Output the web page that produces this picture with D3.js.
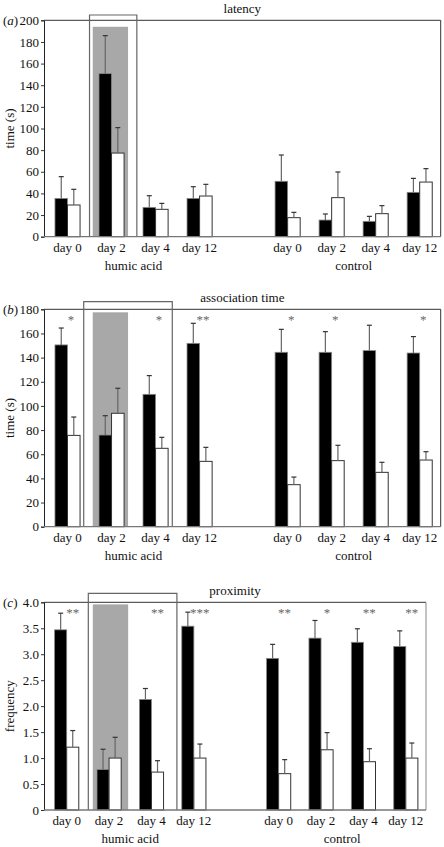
<!DOCTYPE html>
<html><head><meta charset="utf-8">
<script src="https://cdn.jsdelivr.net/npm/d3@7"></script>
<style>body{margin:0;background:#fff}svg{display:block}svg text{font-family:'Liberation Serif','Times New Roman',Times,'Nimbus Roman','DejaVu Serif',serif !important}</style>
</head><body><svg id="c" width="444" height="847"></svg>
<script>
const days = ["day 0","day 2","day 4","day 12"];
const groups = ["humic acid","control"];

const latencyBlack    = [35.4,150.7,27.1,35.4, 51.2,15.4,14.2,41.0];
const latencyBlackErr = [20.1,35.1,10.8,10.8, 24.3,5.6,4.6,12.9];
const latencyWhite    = [29.3,77.3,25.3,37.6, 17.6,36.1,21.3,50.5];
const latencyWhiteErr = [14.5,23.5,5.5,10.8, 4.9,23.7,7.4,12.4];

const assocBlack    = [150.5,75.9,109.6,151.8, 144.4,144.4,145.8,143.8];
const assocBlackErr = [14.0,16.0,15.5,16.6, 19.0,17.1,21.0,13.6];
const assocWhite    = [75.6,93.9,64.9,54.1, 34.8,54.7,45.0,55.2];
const assocWhiteErr = [15.2,20.7,9.1,11.6, 6.3,12.7,8.3,6.9];
const assocStars    = ["*","","*","**", "*","*","","*"];

const proxBlack    = [3.47,0.78,2.13,3.54, 2.92,3.31,3.23,3.15];
const proxBlackErr = [0.32,0.39,0.21,0.27, 0.27,0.34,0.26,0.30];
const proxWhite    = [1.21,1.00,0.73,1.00, 0.70,1.16,0.93,1.00];
const proxWhiteErr = [0.32,0.40,0.22,0.27, 0.27,0.33,0.25,0.29];
const proxStars    = ["**","","**","***", "**","*","**","**"];

const latencyTicks = d3.range(0,201,20);
const assocTicks = d3.range(0,181,20);
const proxTicks = d3.range(0,4.01,0.5);

const FONT = "'Liberation Serif','Times New Roman',Times,'Nimbus Roman','DejaVu Serif',serif";
const svg = d3.select("#c").attr("font-family",FONT);

function panel(o){
  const g = svg.append("g");
  const x = d3.scaleBand().domain(d3.range(9)).range([45.5, o.right+1]).padding(0);
  const y = d3.scaleLinear().domain([0,o.max]).range([o.bottom,o.top]);
  const step = x.bandwidth();
  const bw = step*0.285;
  const slot = i => (i<4 ? i : i+1);
  const cx = i => x(slot(i)) + step/2;

  g.append("rect").attr("x", x(1)+o.grey[0]*step).attr("width",(o.grey[1]-o.grey[0])*step)
    .attr("y", y(o.greyTop)).attr("height", y(0)-y(o.greyTop)).attr("fill","#a8a8a8");

  g.append("line").attr("x1",44).attr("x2",o.right).attr("y1",o.top).attr("y2",o.top).attr("stroke","#333");
  g.append("line").attr("x1",o.right).attr("x2",o.right).attr("y1",o.top).attr("y2",o.bottom).attr("stroke",o.rightCol);

  const data = d3.range(8).map(i=>({i, b:o.black[i], be:o.blackErr[i], w:o.white[i], we:o.whiteErr[i], s:o.stars?o.stars[i]:""}));
  g.selectAll(".bb").data(data).join("rect").attr("x",d=>cx(d.i)-bw).attr("width",bw)
    .attr("y",d=>y(d.b)).attr("height",d=>y(0)-y(d.b)).attr("fill","#000").attr("stroke","#888").attr("stroke-width",0.8);
  g.selectAll(".wb").data(data).join("rect").attr("x",d=>cx(d.i)).attr("width",bw)
    .attr("y",d=>y(d.w)).attr("height",d=>y(0)-y(d.w)).attr("fill","#fff").attr("stroke","#333").attr("stroke-width",1);
  const err = (xc, v, e) => {
    g.append("line").attr("x1",xc).attr("x2",xc).attr("y1",y(v)).attr("y2",y(v+e)).attr("stroke","#666").attr("stroke-width",1.2);
    g.append("line").attr("x1",xc-2.5).attr("x2",xc+2.5).attr("y1",y(v+e)).attr("y2",y(v+e)).attr("stroke","#333").attr("stroke-width",1.2);
  };
  data.forEach(d=>{ err(cx(d.i)-bw/2, d.b, d.be); err(cx(d.i)+bw/2, d.w, d.we); });

  g.selectAll(".st").data(data.filter(d=>d.s)).join("text")
    .attr("x",d=>cx(d.i)+step*o.starOff).attr("y",o.top+15).attr("text-anchor","middle")
    .attr("font-size",13).attr("fill","#666").text(d=>d.s);

  const bx0 = x(0)+o.box[0]*step, bx1 = x(0)+o.box[1]*step;
  g.append("path").attr("d",`M${bx0},${o.bottom}V${o.boxTop}H${bx1}V${o.bottom}`).attr("fill","none").attr("stroke","#666").attr("stroke-width",1.2);

  const ya = g.append("g").attr("transform","translate(44,0)")
    .call(d3.axisLeft(y).tickValues(o.ticks).tickSize(3).tickPadding(2).tickFormat(o.fmt));
  ya.attr("font-family",FONT);
  ya.select(".domain").attr("stroke","#222");
  ya.selectAll(".tick line").attr("stroke","#333");
  ya.selectAll("text").attr("font-size",13).attr("fill","#111");
  g.append("line").attr("x1",44).attr("x2",o.right).attr("y1",o.bottom).attr("y2",o.bottom).attr("stroke","#777").attr("stroke-width",1.3);

  g.selectAll(".xl").data(data).join("text").attr("x",d=>cx(d.i)).attr("y",o.bottom+15)
    .attr("text-anchor","middle").attr("font-size",13).attr("fill","#111").text(d=>days[d.i%4]);
  groups.forEach((gn,k)=>{
    const c = (cx(k*4)+cx(k*4+3))/2;
    g.append("text").attr("x",c).attr("y",o.bottom+33).attr("text-anchor","middle").attr("font-size",13).attr("fill","#111").text(gn);
  });
  g.append("text").attr("x",(44+o.right)/2).attr("y",o.top-7).attr("text-anchor","middle").attr("font-size",13).attr("fill","#111").text(o.title);
  const pl = g.append("text").attr("x",3).attr("y",o.top+4.5).attr("font-size",13).attr("fill","#111");
  pl.append("tspan").text("(");
  pl.append("tspan").attr("font-style","italic").text(o.letter);
  pl.append("tspan").text(")");
  g.append("text").attr("transform",`translate(14,${(o.top+o.bottom)/2}) rotate(-90)`)
    .attr("text-anchor","middle").attr("font-size",13).attr("fill","#111").text(o.ytitle);
}

panel({top:20.3,bottom:236.7,right:440.7,max:200,ticks:latencyTicks,fmt:d3.format("d"),
  black:latencyBlack,blackErr:latencyBlackErr,white:latencyWhite,whiteErr:latencyWhiteErr,
  grey:[0.073,0.875],greyTop:194,box:[1.0,2.075],boxTop:15,rightCol:"#333",starOff:0,
  title:"latency",letter:"a",ytitle:"time (s)"});
panel({top:309.3,bottom:526.7,right:440.7,max:180,ticks:assocTicks,fmt:d3.format("d"),
  black:assocBlack,blackErr:assocBlackErr,white:assocWhite,whiteErr:assocWhiteErr,stars:assocStars,
  grey:[0.073,0.875],greyTop:177.5,box:[0.868,2.88],boxTop:301.7,rightCol:"#333",starOff:0.08,
  title:"association time",letter:"b",ytitle:"time (s)"});
panel({top:602.3,bottom:810,right:426,max:4,ticks:proxTicks,fmt:d=>d===0?"0":d3.format(".1f")(d),
  black:proxBlack,blackErr:proxBlackErr,white:proxWhite,whiteErr:proxWhiteErr,stars:proxStars,
  grey:[0.116,0.95],greyTop:3.96,box:[1.01,3.1],boxTop:593.3,rightCol:"#888",starOff:0.14,
  title:"proximity",letter:"c",ytitle:"frequency"});
</script></body></html>
